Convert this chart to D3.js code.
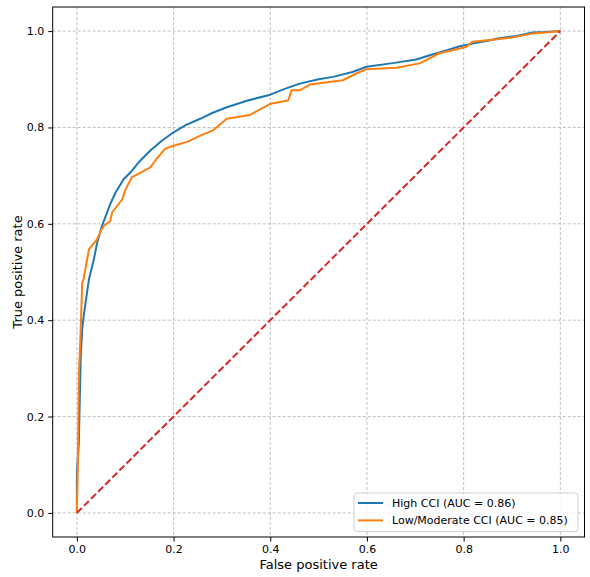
<!DOCTYPE html>
<html>
<head>
<meta charset="utf-8">
<script src="https://cdn.jsdelivr.net/npm/d3@7"></script>
<style>
  body { margin: 0; background: #fff; }
  text { font-family: "DejaVu Sans", sans-serif; fill: #000; }
</style>
</head>
<body>
<svg id="chart"></svg>
<script>
// ROC data
const highFpr = [0, 0, 0.004, 0.008, 0.011, 0.014, 0.025, 0.035, 0.042, 0.052, 0.069, 0.08, 0.097, 0.111, 0.13, 0.152, 0.175, 0.2, 0.225, 0.255, 0.28, 0.31, 0.35, 0.40, 0.43, 0.461, 0.50, 0.53, 0.57, 0.599, 0.65, 0.702, 0.73, 0.764, 0.79, 0.818, 0.85, 0.874, 0.91, 0.942, 0.97, 1.0];
const highTpr = [0, 0.08, 0.145, 0.325, 0.381, 0.408, 0.485, 0.526, 0.561, 0.596, 0.641, 0.665, 0.693, 0.707, 0.73, 0.752, 0.772, 0.79, 0.805, 0.818, 0.83, 0.842, 0.855, 0.868, 0.88, 0.891, 0.90, 0.905, 0.915, 0.926, 0.933, 0.941, 0.95, 0.960, 0.968, 0.974, 0.98, 0.985, 0.99, 0.997, 0.998, 1.0];

const lowFpr = [0, 0.002, 0.004, 0.008, 0.011, 0.014, 0.021, 0.025, 0.042, 0.049, 0.056, 0.069, 0.073, 0.094, 0.1, 0.114, 0.13, 0.152, 0.165, 0.183, 0.2, 0.228, 0.26, 0.282, 0.31, 0.358, 0.40, 0.437, 0.444, 0.461, 0.482, 0.55, 0.578, 0.599, 0.661, 0.709, 0.75, 0.805, 0.818, 0.87, 0.908, 0.942, 0.97, 1.0];
const lowTpr = [0, 0.1, 0.283, 0.381, 0.478, 0.485, 0.526, 0.547, 0.568, 0.585, 0.596, 0.606, 0.624, 0.651, 0.67, 0.697, 0.705, 0.717, 0.735, 0.756, 0.762, 0.77, 0.785, 0.794, 0.818, 0.826, 0.849, 0.856, 0.877, 0.877, 0.889, 0.898, 0.912, 0.921, 0.924, 0.933, 0.954, 0.967, 0.978, 0.983, 0.988, 0.995, 0.997, 1.0];

const chanceLine = [0, 1];
const tickValues = [0, 0.2, 0.4, 0.6, 0.8, 1.0];
const seriesNames = ["High CCI (AUC = 0.86)", "Low/Moderate CCI (AUC = 0.85)"];
const seriesColors = ["#1f77b4", "#ff7f0e"];

const width = 590, height = 577;
const margin = {top: 7, right: 5.5, bottom: 40, left: 52.7};

const svg = d3.select("#chart").attr("width", width).attr("height", height);

const x = d3.scaleLinear().domain([-0.05, 1.05]).range([margin.left, width - margin.right]);
const y = d3.scaleLinear().domain([-0.05, 1.05]).range([height - margin.bottom, margin.top]);

// grille
const grid = svg.append("g").attr("stroke", "#b0b0b0").attr("stroke-width", 0.8).attr("stroke-dasharray", "3,2");
grid.selectAll(".gx").data(tickValues).enter().append("line")
  .attr("x1", d => x(d)).attr("x2", d => x(d))
  .attr("y1", margin.top).attr("y2", height - margin.bottom);
grid.selectAll(".gy").data(tickValues).enter().append("line")
  .attr("y1", d => y(d)).attr("y2", d => y(d))
  .attr("x1", margin.left).attr("x2", width - margin.right);

// courbes
const line = d3.line().x(d => x(d[0])).y(d => y(d[1]));
const series = [
  d3.zip(highFpr, highTpr),
  d3.zip(lowFpr, lowTpr)
];
series.forEach((s, i) => {
  svg.append("path")
    .datum(s)
    .attr("fill", "none")
    .attr("stroke", seriesColors[i])
    .attr("stroke-width", 2)
    .attr("stroke-linejoin", "round")
    .attr("d", line);
});

// diagonale
svg.append("path")
  .datum(chanceLine.map(v => [v, v]))
  .attr("fill", "none")
  .attr("stroke", "#d62728")
  .attr("stroke-width", 2)
  .attr("stroke-dasharray", "7,3")
  .attr("d", line);

// axes
const xAxis = svg.append("g")
  .attr("transform", `translate(0,${height - margin.bottom})`)
  .call(d3.axisBottom(x).tickValues(tickValues).tickFormat(d3.format(".1f")).tickSizeOuter(0).tickSize(4.5).tickPadding(4));
const yAxis = svg.append("g")
  .attr("transform", `translate(${margin.left},0)`)
  .call(d3.axisLeft(y).tickValues(tickValues).tickFormat(d3.format(".1f")).tickSizeOuter(0).tickSize(4.5).tickPadding(4));
[xAxis, yAxis].forEach(a => {
  a.select(".domain").remove();
  a.selectAll("text").attr("font-size", "11px").attr("font-family", "DejaVu Sans");
  a.selectAll("line").attr("stroke", "#000").attr("stroke-width", 1);
});

// cadre
svg.append("rect")
  .attr("x", margin.left).attr("y", margin.top)
  .attr("width", width - margin.left - margin.right)
  .attr("height", height - margin.top - margin.bottom)
  .attr("fill", "none").attr("stroke", "#000").attr("stroke-width", 1);

// titres des axes
svg.append("text")
  .attr("x", (margin.left + width - margin.right) / 2)
  .attr("y", 569)
  .attr("text-anchor", "middle")
  .attr("font-size", "13px")
  .text("False positive rate");
svg.append("text")
  .attr("transform", `translate(22,${(margin.top + height - margin.bottom) / 2}) rotate(-90)`)
  .attr("text-anchor", "middle")
  .attr("font-size", "13px")
  .text("True positive rate");

// légende
const legend = svg.append("g");
legend.append("rect")
  .attr("x", 354).attr("y", 493).attr("width", 224).attr("height", 38.5)
  .attr("rx", 3).attr("fill", "#fff").attr("fill-opacity", 0.8)
  .attr("stroke", "#d0d0d0").attr("stroke-width", 1);
seriesNames.forEach((name, i) => {
  const ly = 503 + i * 17.4;
  legend.append("line")
    .attr("x1", 358).attr("x2", 383).attr("y1", ly).attr("y2", ly)
    .attr("stroke", seriesColors[i]).attr("stroke-width", 2);
  legend.append("text")
    .attr("x", 392).attr("y", ly).attr("dy", "0.35em")
    .attr("font-size", "11px")
    .text(name);
});
</script>
</body>
</html>
